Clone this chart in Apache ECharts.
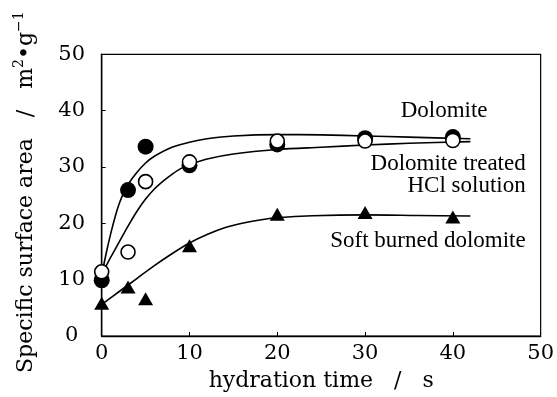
<!DOCTYPE html>
<html><head><meta charset="utf-8">
<script src="https://cdn.jsdelivr.net/npm/echarts@6/dist/echarts.min.js"></script>
<style>html,body{margin:0;padding:0;background:#fff}#c{width:557px;height:397px}</style>
</head><body><div id="c"></div>
<script>
// measured points
const timeX = [0, 3, 5, 10, 20, 30, 40];
const dolomiteY = [9.9, 25.9, 33.6, 30.3, 34.0, 35.1, 35.3];
const treatedY = [11.4, 14.9, 27.4, 30.9, 34.6, 34.6, 34.7];
const softY = [5.8, 8.7, 6.6, 16.0, 21.6, 21.9, 21.1];
// fitted curves
const dolFitX = [0, 0.5, 1, 1.5, 2, 2.5, 3, 4, 5, 6, 8, 10, 12, 15, 20, 25, 30, 35, 42];
const dolFitY = [10.8, 14.6, 18.0, 21.0, 23.5, 25.4, 26.9, 29.0, 30.7, 31.9, 33.5, 34.4, 35.0, 35.5, 35.75, 35.7, 35.5, 35.3, 35.0];
const trtFitX = [0, 1, 2, 3, 4, 5, 6, 7, 8, 9, 10, 12, 15, 20, 25, 30, 35, 42];
const trtFitY = [11.0, 13.9, 16.7, 19.5, 22.1, 24.3, 26.1, 27.5, 28.7, 29.7, 30.4, 31.4, 32.3, 33.1, 33.5, 33.9, 34.2, 34.5];
const softFitX = [0, 2, 4, 6, 8, 10, 12, 14, 16, 18, 20, 24, 30, 36, 42];
const softFitY = [5.6, 7.9, 10.2, 12.5, 14.6, 16.5, 18.0, 19.2, 20.0, 20.6, 21.0, 21.35, 21.5, 21.4, 21.3];
const xTicks = [0, 10, 20, 30, 40, 50];
const yTicks = [0, 10, 20, 30, 40, 50];
// annotation labels
const labelTexts = ['Dolomite', 'Dolomite treated', 'HCl solution', 'Soft burned dolomite'];
const labelX = [39.0, 48.3, 48.3, 48.3];
const labelY = [39.9, 30.6, 26.7, 16.9];

const zip = (a, b) => a.map((v, i) => [v, b[i]]);
const chart = echarts.init(document.getElementById('c'));
const serif = "'DejaVu Serif'";
const times = "'Liberation Serif'";
const lineStyle = {color: '#000', width: 1.6};
const curve = (x, y) => ({type: 'line', data: zip(x, y), smooth: 0.3,
  showSymbol: false, lineStyle, z: 2, silent: true});
chart.setOption({
  animation: false,
  backgroundColor: '#fff',
  grid: {left: 101.7, right: 14, top: 54.3, bottom: 59.3, show: true, borderColor: '#000', borderWidth: 1.2, backgroundColor: 'transparent'},
  xAxis: {
    type: 'value', min: 0, max: 50, interval: 10,
    name: 'hydration time   /   s', nameLocation: 'middle', nameGap: 34,
    nameTextStyle: {fontFamily: serif, fontSize: 22, color: '#000'},
    axisLine: {lineStyle: {color: '#000', width: 1.4}},
    axisTick: {inside: true, length: 4, lineStyle: {color: '#000'}},
    splitLine: {show: false},
    axisLabel: {fontFamily: serif, fontSize: 21, color: '#000', margin: 7,
      formatter: v => xTicks.includes(v) ? String(v) : ''}
  },
  yAxis: {
    type: 'value', min: 0, max: 50, interval: 10,
    name: 'Specific surface area   /   m{s|2}•g{s|−1}', nameLocation: 'middle', nameGap: 62, nameRotate: 90,
    nameTextStyle: {fontFamily: serif, fontSize: 22, color: '#000', lineHeight: 27, padding: [0, 0, 0, 6],
      rich: {s: {fontFamily: serif, fontSize: 14, color: '#000', verticalAlign: 'top', lineHeight: 27}}},
    axisLine: {lineStyle: {color: '#000', width: 1.4}},
    axisTick: {inside: true, length: 4, lineStyle: {color: '#000'}},
    splitLine: {show: false},
    axisLabel: {fontFamily: serif, fontSize: 21, color: '#000', margin: 30, align: 'center',
      formatter: v => yTicks.includes(v) ? String(v) : ''}
  },
  series: [
    curve(dolFitX, dolFitY),
    curve(trtFitX, trtFitY),
    curve(softFitX, softFitY),
    {type: 'scatter', data: zip(timeX, dolomiteY), symbol: 'circle', symbolSize: 16,
      itemStyle: {color: '#000', opacity: 1}, z: 3},
    {type: 'scatter', data: zip(timeX, treatedY), symbol: 'circle', symbolSize: 14,
      itemStyle: {color: '#fff', borderColor: '#000', borderWidth: 1.6, opacity: 1}, z: 4},
    {type: 'scatter', data: zip(timeX, softY), symbol: 'triangle', symbolSize: [15, 13],
      itemStyle: {color: '#000', opacity: 1}, z: 3},
    {type: 'scatter', data: labelTexts.map((t, i) => ({value: [labelX[i], labelY[i]], name: t, label: {align: i === 0 ? 'center' : 'right'}})),
      symbolSize: 0, silent: true, z: 5, itemStyle: {opacity: 1},
      label: {show: true, position: 'inside', formatter: p => p.name, opacity: 1,
        fontFamily: times, fontSize: 23, color: '#000'}}
  ]
});
</script></body></html>
